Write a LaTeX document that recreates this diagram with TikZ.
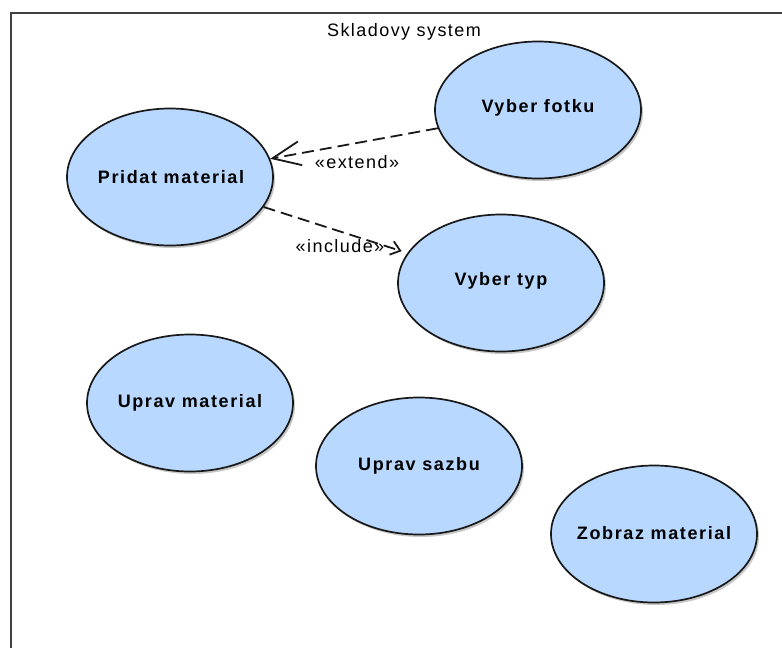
\documentclass[tikz,border=0pt]{standalone}
\usepackage{fontspec}
\setmainfont{Liberation Sans}
\usetikzlibrary{shapes.geometric,arrows.meta,shadows}
\definecolor{ucfill}{RGB}{184,216,255}
\definecolor{edge}{RGB}{25,25,25}
\tikzset{
  uc/.style={ellipse,draw=edge,line width=1.7pt,fill=ucfill,minimum width=206pt,minimum height=137pt,inner sep=0pt,
    drop shadow={shadow xshift=2pt,shadow yshift=-2.5pt,opacity=0.3,fill=black!70}},
  uctext/.style={font=\fontsize{18}{20}\selectfont\bfseries\addfontfeatures{LetterSpace=9}},
  plain/.style={font=\fontsize{18}{20}\selectfont\addfontfeatures{LetterSpace=8}},
  dep/.style={draw=edge,line width=1.8pt,dash pattern=on 12pt off 6pt},
}
\begin{document}
\begin{tikzpicture}[x=1pt,y=-1pt]
\useasboundingbox (0,0) rectangle (782,648);
\clip (0,0) rectangle (782,648);
\fill[white] (0,0) rectangle (782,648);
\node[draw=black!75,line width=1.8pt,minimum width=800pt,minimum height=660pt,anchor=north west,inner sep=0pt] (sys) at (10,12) {};
\node[plain] (title) at (404,32) {Skladovy system};
\node[uc] (pm) at (170,177) {};
\node[uctext] (pmt) at (171,177) {Pridat material};
\node[uc] (vf) at (538,110) {};
\node[uctext] (vft) at (538,108) {Vyber fotku};
\node[uc] (vt) at (501,283) {};
\node[uctext] (vtt) at (501,281) {Vyber typ};
\node[uc] (um) at (190,403) {};
\node[uctext] (umt) at (190,403) {Uprav material};
\node[uc] (us) at (419,466) {};
\node[uctext] (ust) at (419,466) {Uprav sazbu};
\node[uc] (zm) at (654,534) {};
\node[uctext] (zmt) at (654,533) {Zobraz material};
\draw[dep,-{Straight Barb[length=28pt,width=24pt,line width=1.8pt]}] (vf) -- (pm);
\draw[dep,shorten >=6pt,-{Straight Barb[length=9pt,width=14pt,line width=1.8pt]}] (pm) -- (vt);
\node[plain] (ext) at (357,162) {«extend»};
\node[plain] (inc) at (340,246) {«include»};
\end{tikzpicture}
\end{document}
